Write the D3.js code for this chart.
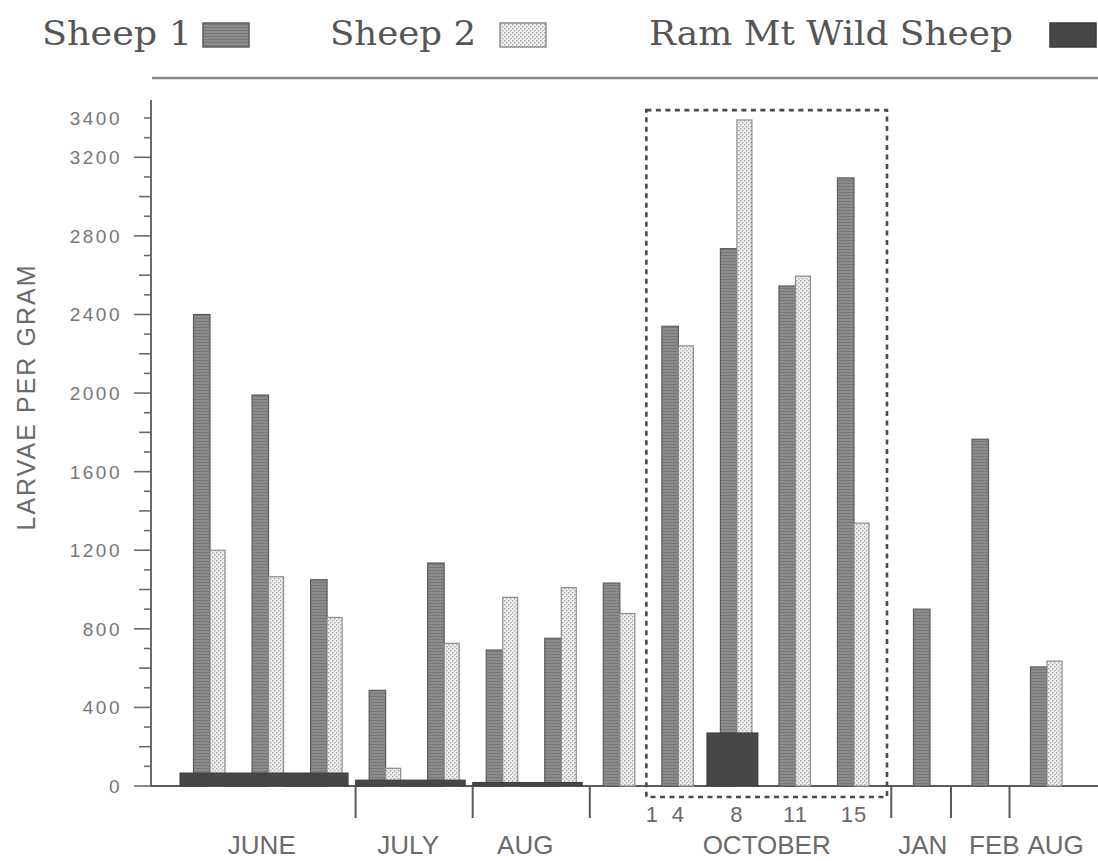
<!DOCTYPE html>
<html>
<head>
<meta charset="utf-8">
<script src="https://cdn.jsdelivr.net/npm/d3@7"></script>
<style>
    body { margin: 0; background: #fff; }
</style>
</head>
<body>
<div id="chart"></div>
<script>
// periods shown under the axis, and which period each sample belongs to
const periods = ["JUNE", "JULY", "AUG", "OCTOBER", "JAN", "FEB", "AUG"]
const samplePeriod = [0, 0, 0, 1, 1, 2, 2, 3, 3, 3, 3, 3, 4, 5, 6]
const sampleDay = ["", "", "", "", "", "", "", "1", "4", "8", "11", "15", "", "", ""]

// larvae per gram
const sheep1 = [2400, 1990, 1050, 487, 1135, 692, 752, 1033, 2340, 2735, 2545, 3095, 900, 1765, 606]
const sheep2 = [1200, 1065, 858, 90, 726, 960, 1010, 878, 2240, 3390, 2595, 1338, null, null, 636]

// wild sheep: one bar across a run of samples
const ramFrom = [0, 3, 5, 9]
const ramTo = [2, 4, 6, 9]
const ramValues = [66, 30, 18, 270]

const yTickLabels = [0, 400, 800, 1200, 1600, 2000, 2400, 2800, 3200, 3400]
const legendNames = ["Sheep 1", "Sheep 2", "Ram Mt Wild Sheep"]

const W = 1098, H = 861
const svg = d3.select("#chart").append("svg")
    .attr("width", W).attr("height", H)
    .style("font-family", "'Liberation Sans', Arial, sans-serif")

// fills
const defs = svg.append("defs")
let p1 = defs.append("pattern").attr("id", "pat1").attr("patternUnits", "userSpaceOnUse")
    .attr("width", 4).attr("height", 3)
p1.append("rect").attr("width", 4).attr("height", 3).attr("fill", "#8c8c8c")
p1.append("rect").attr("width", 4).attr("height", 1).attr("fill", "#777")
let p2 = defs.append("pattern").attr("id", "pat2").attr("patternUnits", "userSpaceOnUse")
    .attr("width", 4).attr("height", 4)
p2.append("rect").attr("width", 4).attr("height", 4).attr("fill", "#ededed")
p2.append("rect").attr("width", 1.4).attr("height", 1.4).attr("fill", "#aaa")
p2.append("rect").attr("x", 2).attr("y", 2).attr("width", 1.4).attr("height", 1.4).attr("fill", "#aaa")
const fills = ["url(#pat1)", "url(#pat2)", "#474747"]
const strokes = ["#5c5c5c", "#8d8d8d", "#3d3d3d"]

const y = d3.scaleLinear().domain([0, 3400]).range([786, 118])
const x = d3.scaleLinear().domain([0, 11, 12, 14]).range([210, 854, 930, 1047])
const w1 = 16.5, w2 = 15

// frame lines
svg.append("line").attr("x1", 152).attr("x2", W).attr("y1", 78).attr("y2", 78)
    .attr("stroke", "#8a8a8a").attr("stroke-width", 2.5)
svg.append("line").attr("x1", 151).attr("x2", 151).attr("y1", 100).attr("y2", y(0))
    .attr("stroke", "#6a6a6a").attr("stroke-width", 2)
svg.append("line").attr("x1", 150).attr("x2", W).attr("y1", y(0)).attr("y2", y(0))
    .attr("stroke", "#5a5a5a").attr("stroke-width", 2)

// y ticks every 100, labels from the list
let g = svg.append("g")
for (let v = 0; v <= 3400; v += 100) {
    let len = v % 400 === 0 ? 17 : (v % 200 === 0 ? 12 : 7)
    if (v === 3400) len = 7
    g.append("line").attr("x1", 151 - len).attr("x2", 151).attr("y1", y(v)).attr("y2", y(v))
        .attr("stroke", "#6a6a6a").attr("stroke-width", 1.6)
}
g.selectAll("text.yt").data(yTickLabels).enter().append("text")
    .attr("class", "yt")
    .attr("x", 122).attr("y", d => y(d) + 7)
    .attr("text-anchor", "end")
    .style("font-size", "19px").style("letter-spacing", "2.5px").attr("fill", "#777")
    .text(d => d)

svg.append("text")
    .attr("transform", "translate(35,398) rotate(-90)")
    .attr("text-anchor", "middle")
    .style("font-size", "25px").attr("fill", "#6a6a6a")
    .attr("textLength", 265).attr("lengthAdjust", "spacing")
    .text("LARVAE PER GRAM")

svg.selectAll("rect.s1").data(sheep1).enter().append("rect")
    .attr("class", "s1")
    .attr("x", (d, i) => x(i) - w1).attr("width", w1)
    .attr("y", d => y(d)).attr("height", d => y(0) - y(d))
    .attr("fill", fills[0]).attr("stroke", strokes[0]).attr("stroke-width", 1.2)

svg.selectAll("rect.s2").data(sheep2.map((v, i) => [v, i]).filter(d => d[0] != null)).enter().append("rect")
    .attr("class", "s2")
    .attr("x", d => x(d[1])).attr("width", w2)
    .attr("y", d => y(d[0])).attr("height", d => y(0) - y(d[0]))
    .attr("fill", fills[1]).attr("stroke", strokes[1]).attr("stroke-width", 1.2)

// wild sheep bars sit over the others
svg.selectAll("rect.ram").data(ramValues).enter().append("rect")
    .attr("class", "ram")
    .attr("x", (d, i) => x(ramFrom[i]) - 30)
    .attr("width", (d, i) => x(ramTo[i]) + 21 - (x(ramFrom[i]) - 30))
    .attr("y", d => y(d))
    .attr("height", d => y(0) - y(d))
    .attr("fill", fills[2]).attr("stroke", strokes[2]).attr("stroke-width", 1)

// period separators under the axis
function leftEdge(i) { return x(i) - w1 }
function rightEdge(i) { return sheep2[i] != null ? x(i) + w2 : x(i) }
let seps = []
for (let i = 0; i < samplePeriod.length - 1; i++) {
    if (samplePeriod[i] !== samplePeriod[i + 1]) {
        let sx = (rightEdge(i) + leftEdge(i + 1)) / 2
        seps[samplePeriod[i + 1]] = sx
        svg.append("line").attr("x1", sx).attr("x2", sx).attr("y1", y(0)).attr("y2", y(0) + 32)
            .attr("stroke", "#5a5a5a").attr("stroke-width", 2)
    }
}

// dashed box round the October run
let boxL = x(8) - 32, boxR = x(11) + 33
svg.append("rect")
    .attr("x", boxL).attr("y", y(3440))
    .attr("width", boxR - boxL).attr("height", y(0) + 11 - y(3440))
    .attr("fill", "none").attr("stroke", "#4a4a4a").attr("stroke-width", 2.6)
    .attr("stroke-dasharray", "5,4.5")

// day labels
svg.selectAll("text.day").data(sampleDay.map((d, i) => [d, i]).filter(d => d[0] !== "")).enter()
    .append("text").attr("class", "day")
    .attr("x", d => d[0] === "1" ? boxL + 6 : x(d[1]))
    .attr("y", 822)
    .attr("text-anchor", "middle")
    .style("font-size", "22px").style("letter-spacing", "1px").attr("fill", "#6a6a6a")
    .text(d => d[0])

// month labels: single-sample months start just past their separator
let monthPos = periods.map((p, k) => {
    if (p === "OCTOBER") return (boxL + boxR) / 2
    let idx = samplePeriod.map((v, i) => [v, i]).filter(d => d[0] === k).map(d => d[1])
    if (idx.length === 1) return seps[k] + (k === 4 ? 7 : 18)
    return d3.mean(idx, i => (leftEdge(i) + rightEdge(i)) / 2) - 6
})
svg.selectAll("text.month").data(periods).enter().append("text")
    .attr("class", "month")
    .attr("x", (d, i) => monthPos[i]).attr("y", 854)
    .attr("text-anchor", (d, i) => i >= 4 ? "start" : "middle")
    .style("font-size", "26px").attr("fill", "#6a6a6a")
    .text(d => d)

// legend
const legendX = [42, 330, 649]
const legendSw = [203, 500, 1050]
const legendLen = [150, 146, 364]
svg.selectAll("text.leg").data(legendNames).enter().append("text")
    .attr("class", "leg")
    .attr("x", (d, i) => legendX[i]).attr("y", 45)
    .style("font-family", "'DejaVu Serif', 'Liberation Serif', serif")
    .style("font-size", "34px").attr("fill", "#555")
    .attr("textLength", (d, i) => legendLen[i]).attr("lengthAdjust", "spacingAndGlyphs")
    .text(d => d)
svg.selectAll("rect.leg").data(legendNames).enter().append("rect")
    .attr("class", "leg")
    .attr("x", (d, i) => legendSw[i]).attr("y", 23)
    .attr("width", 46).attr("height", 24)
    .attr("fill", (d, i) => fills[i]).attr("stroke", (d, i) => strokes[i]).attr("stroke-width", 1.5)
</script>
</body>
</html>
